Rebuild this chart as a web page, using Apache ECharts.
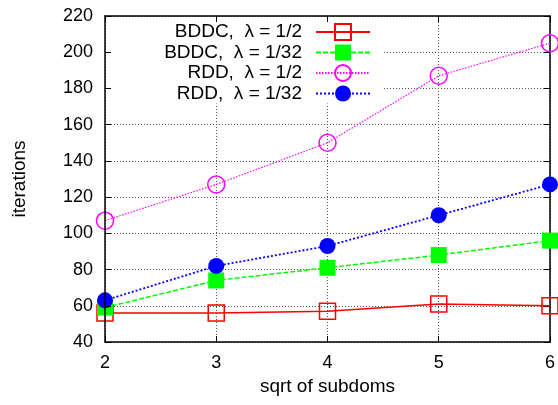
<!DOCTYPE html>
<html>
<head>
<meta charset="utf-8">
<script src="https://cdn.jsdelivr.net/npm/echarts@6/dist/echarts.min.js"></script>
<style>
  html, body { margin: 0; padding: 0; background: #fff; }
  #chart { width: 558px; height: 405px; }
</style>
</head>
<body>
<div id="chart"></div>
<script>
// data
var subdoms = [2, 3, 4, 5, 6];
var bddcHalf = [56, 56, 57, 61, 60];
var bddcSmall = [59, 74, 81, 88, 96];
var rddHalf = [107, 127, 150, 187, 205];
var rddSmall = [63, 82, 93, 110, 127];
var names = ["BDDC,  λ = 1/2", "BDDC,  λ = 1/32", "RDD,  λ = 1/2", "RDD,  λ = 1/32"];

var FONT = "'Liberation Sans', Arial, sans-serif";

function pairs(ys) {
  return subdoms.map(function (x, i) { return [x, ys[i]]; });
}

var chart = echarts.init(document.getElementById("chart"));

chart.setOption({
  animation: false,
  backgroundColor: "#fff",
  textStyle: { fontFamily: FONT, color: "#000" },
  grid: { left: 105, right: 2, top: 16, bottom: 63 },
  legend: {
    data: names,
    orient: "vertical",
    left: 106,
    top: 17,
    align: "right",
    itemWidth: 54,
    itemHeight: 20,
    itemGap: 0.5,
    padding: [5, 13, 0, 14],
    backgroundColor: "#fff",
    selectedMode: false,
    textStyle: {
      fontFamily: FONT,
      fontSize: 19,
      color: "#000",
      width: 182,
      align: "right",
      lineHeight: 20,
      padding: [0, 9, 0, 0],
    },
  },
  xAxis: [
    {
      type: "value",
      min: 2,
      max: 6,
      interval: 1,
      name: "sqrt of subdoms",
      nameLocation: "middle",
      nameGap: 35,
      nameTextStyle: { fontSize: 19, color: "#000", fontFamily: FONT },
      axisLine: { show: true, lineStyle: { color: "#000", width: 1.5 } },
      axisTick: { show: true, inside: true, length: 6, lineStyle: { color: "#000" } },
      axisLabel: { fontSize: 18, color: "#000", margin: 12, fontFamily: FONT },
      splitLine: { show: true, lineStyle: { color: "#555", type: [1, 2], width: 1 } },
    },
    {
      type: "value",
      position: "top",
      min: 2,
      max: 6,
      interval: 1,
      z: 10,
      axisLine: { show: true, lineStyle: { color: "#000", width: 1.5 } },
      axisTick: { show: true, inside: true, length: 6, lineStyle: { color: "#000" } },
      axisLabel: { show: false },
      splitLine: { show: false },
    },
  ],
  yAxis: [
    {
      type: "value",
      min: 40,
      max: 220,
      interval: 20,
      z: 10,
      name: "iterations",
      nameLocation: "middle",
      nameGap: 76,
      nameTextStyle: { fontSize: 19, color: "#000", fontFamily: FONT },
      axisLine: { show: true, lineStyle: { color: "#000", width: 1.5 } },
      axisTick: { show: true, inside: true, length: 6, lineStyle: { color: "#000" } },
      axisLabel: { fontSize: 18, color: "#000", margin: 12, fontFamily: FONT },
      splitLine: { show: false },
    },
    {
      type: "value",
      position: "right",
      min: 40,
      max: 220,
      interval: 20,
      axisLine: { show: true, lineStyle: { color: "#000", width: 1.5 } },
      axisTick: { show: true, inside: true, length: 6, lineStyle: { color: "#000" } },
      axisLabel: { show: false },
      splitLine: { show: true, lineStyle: { color: "#555", type: [1, 2], width: 1 } },
    },
  ],
  series: [
    {
      name: names[0],
      type: "line",
      data: pairs(bddcHalf),
      symbol: "rect",
      symbolSize: 16,
      itemStyle: { color: "rgba(0,0,0,0)", borderColor: "#ff0000", borderWidth: 1.5 },
      lineStyle: { color: "#ff0000", width: 1.5, type: "solid" },
    },
    {
      name: names[1],
      type: "line",
      data: pairs(bddcSmall),
      symbol: "rect",
      symbolSize: 16,
      itemStyle: { color: "#00ff00", borderWidth: 0 },
      lineStyle: { color: "#00ff00", width: 1.5, type: [5, 2] },
    },
    {
      name: names[2],
      type: "line",
      data: pairs(rddHalf),
      symbol: "circle",
      symbolSize: 17,
      itemStyle: { color: "rgba(0,0,0,0)", borderColor: "#ff00ff", borderWidth: 1.5 },
      lineStyle: { color: "#ff00ff", width: 1.2, type: [1.5, 1.5] },
    },
    {
      name: names[3],
      type: "line",
      data: pairs(rddSmall),
      symbol: "circle",
      symbolSize: 16,
      itemStyle: { color: "#0000ff", borderWidth: 0 },
      lineStyle: { color: "#0000ff", width: 1.8, type: [2, 2] },
    },
  ],
});
</script>
</body>
</html>
